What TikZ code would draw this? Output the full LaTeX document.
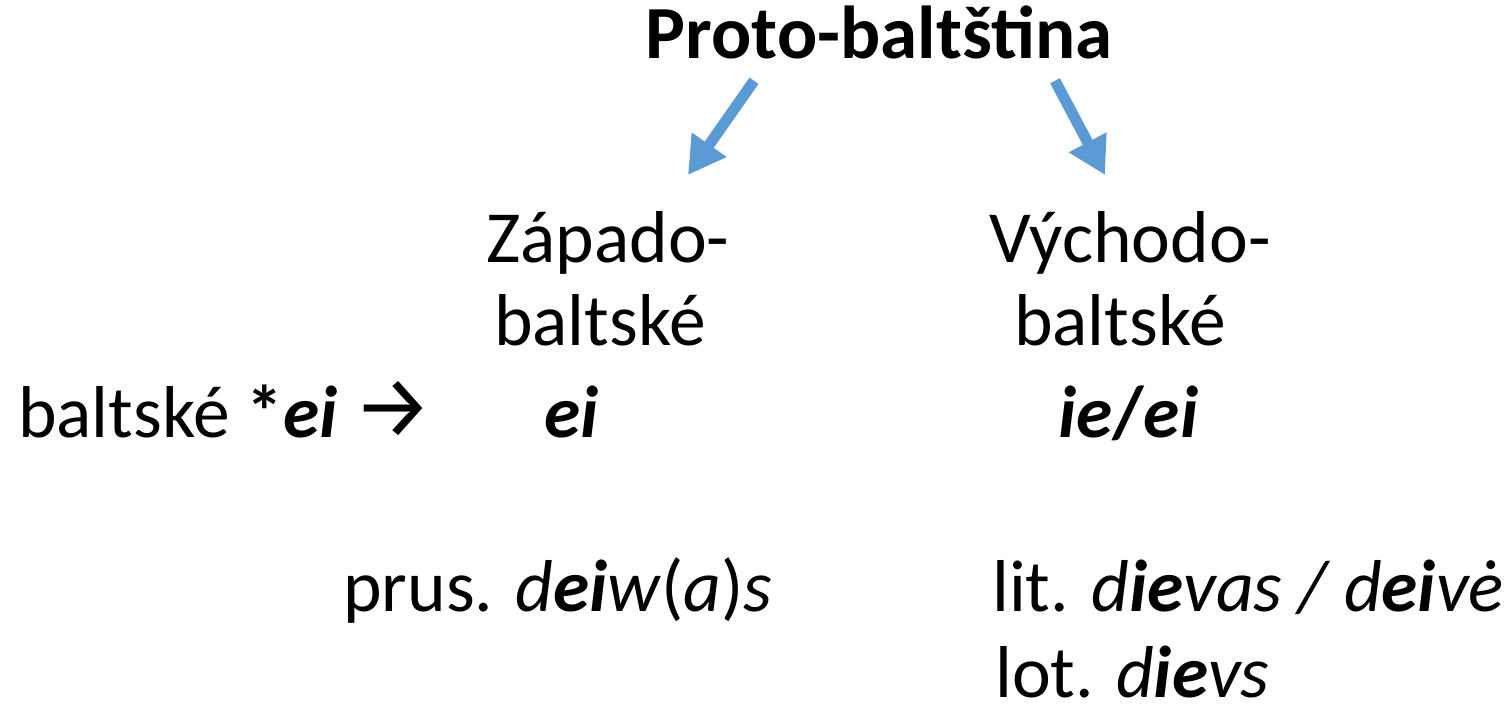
\documentclass[tikz,border=0pt]{standalone}
\usepackage{fontspec}
\setmainfont{Carlito}
\newfontfamily\arrowfont{Fira Sans}
\usepackage{tikz}
\usetikzlibrary{arrows.meta,positioning}
\definecolor{arrowblue}{RGB}{91,155,213}
\tikzstyle{title} = [font=\fontsize{75}{83}\selectfont\bfseries, inner sep=0pt, anchor=base]
\tikzstyle{branch} = [font=\fontsize{73.5}{83}\selectfont, inner sep=0pt, anchor=base]
\tikzstyle{word} = [font=\fontsize{73.5}{83}\selectfont, inner sep=0pt, anchor=base west]
\tikzstyle{arrow} = [line width=11pt, draw=arrowblue, -{Triangle[length=37pt,width=40pt]}]

\begin{document}
\begin{tikzpicture}[x=1pt,y=-1pt]
	\useasboundingbox (0,0) rectangle (1511,711);
	\node (proto) [title] at (879,59) {Proto-baltština};
	\node (zapad1) [branch] at (608,262) {Západo-};
	\node (zapad2) [branch] at (600,345) {baltské};
	\node (vychod1) [branch] at (1130,262) {Východo-};
	\node (vychod2) [branch] at (1120,345) {baltské};
	\node (baltske) [word] at (18,437) {baltské \textbf{*\textit{ei}} {\arrowfont\fontsize{88}{83}\selectfont →}};
	\node (ei) [word] at (544,437) {\textbf{\textit{ei}}};
	\node (ieei) [word] at (1058,437) {\textbf{\textit{ie}/\textit{ei}}};
	\node (prus) [word] at (343,611) {prus. \textit{d\textbf{ei}w}(\textit{a})\textit{s}};
	\node (lit) [word] at (992,611) {lit. \textit{d\textbf{ie}vas / d\textbf{ei}vė}};
	\node (lot) [word] at (995,697) {lot. \textit{d\textbf{ie}vs}};
	\coordinate (zapadtip) at (688,175);
	\coordinate (vychodtip) at (1105,175);

	\draw [arrow] ([xshift=-125pt,yshift=-21pt]proto.south) -- (zapadtip);
	\draw [arrow] ([xshift=176pt,yshift=-21pt]proto.south) -- (vychodtip);
\end{tikzpicture}
\end{document}
